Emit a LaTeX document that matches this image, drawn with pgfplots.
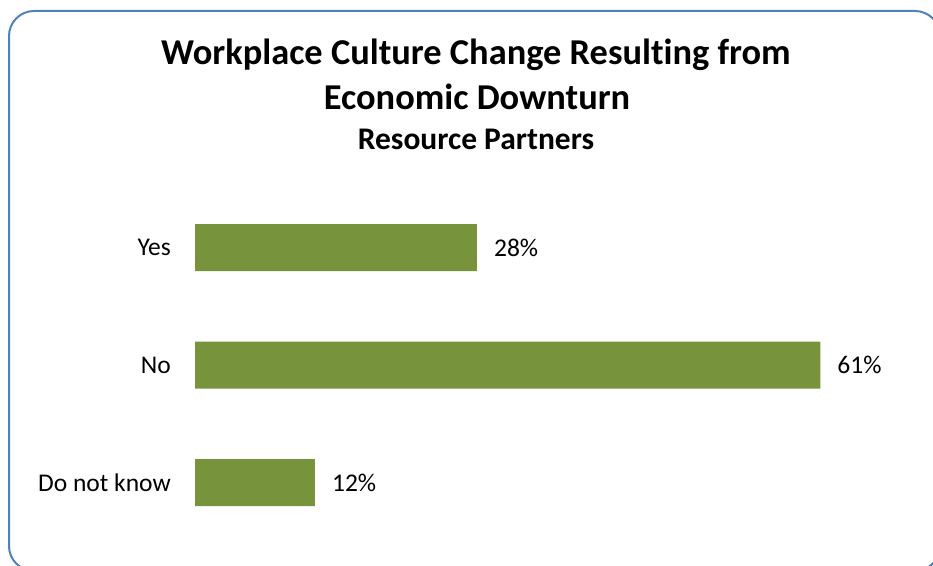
\documentclass[border=0pt]{standalone}
\usepackage{pgfplots}
\pgfplotsset{compat=1.18}
\usepackage{fontspec}
\setmainfont{Carlito}[Ligatures=NoCommon]
\definecolor{barg}{HTML}{77933C}
\definecolor{frameb}{HTML}{4F81BD}
\begin{document}
\begin{tikzpicture}[x=1pt,y=1pt]
\useasboundingbox (0,0) rectangle (933,565);
\begin{scope}
\clip (0,0) rectangle (933,565);
\draw[frameb, line width=2pt, rounded corners=25pt] (9,-6) rectangle (940,554);
\end{scope}
\node[anchor=base, font=\fontsize{36.4}{44}\selectfont\bfseries] at (476,565-65) {Workplace Culture Change Resulting from};
\node[anchor=base, font=\fontsize{36.4}{44}\selectfont\bfseries] at (477,565-110) {Economic Downturn};
\node[anchor=base, font=\fontsize{31.5}{38}\selectfont\bfseries] at (476,565-150) {Resource Partners};
\begin{axis}[
  at={(195pt,23.75pt)}, anchor=south west,
  scale only axis,
  width=717.5pt, height=352.5pt,
  xmin=0, xmax=70, ymin=-0.5, ymax=2.5,
  xbar, bar width=47pt, bar shift=0pt,
  axis line style={draw=none},
  xtick=\empty,
  ytick={0,1,2},
  yticklabels={Do not know, No, Yes},
  major tick length=0pt,
  yticklabel style={font=\fontsize{25.5}{30}\selectfont, inner sep=0pt, xshift=-24pt},
  point meta=explicit symbolic,
  nodes near coords,
  nodes near coords style={font=\fontsize{25.5}{30}\selectfont, anchor=west, inner sep=0pt, xshift=17pt},
  clip=false,
]
\addplot[fill=barg, draw=none] coordinates {(27.5,2) [28\%] (61,1) [61\%] (11.7,0) [12\%]};
\end{axis}
\end{tikzpicture}
\end{document}
